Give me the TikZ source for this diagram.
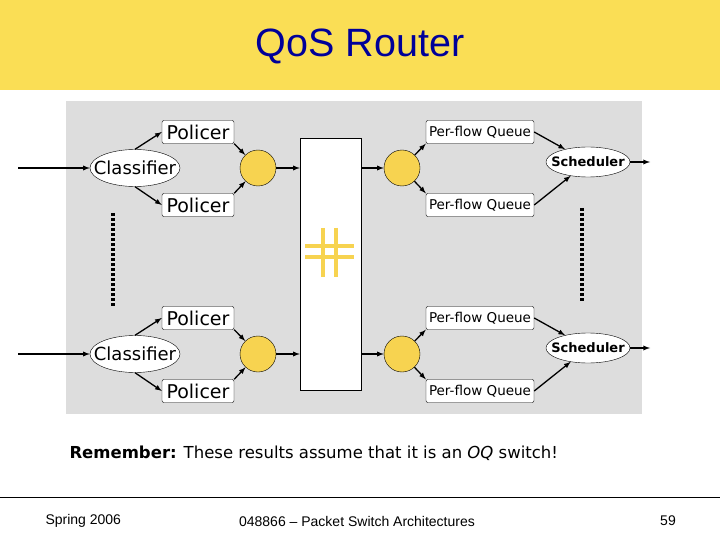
\documentclass[tikz,border=0pt]{standalone}
\usepackage{fontspec}
\setmainfont{Liberation Sans}
\newfontfamily\comicfont{DejaVu Sans}
\usetikzlibrary{shapes.geometric}

\definecolor{headyellow}{RGB}{250,222,85}
\definecolor{hubyellow}{RGB}{247,211,80}
\definecolor{panelgray}{RGB}{221,221,221}
\definecolor{titleblue}{RGB}{0,0,153}

\tikzset{
  pol/.style={draw, fill=white, rounded corners=2pt, minimum width=72pt, minimum height=23pt, inner sep=1pt, font=\comicfont\fontsize{19}{19}\selectfont},
  que/.style={draw, fill=white, rounded corners=2pt, minimum width=108pt, minimum height=23pt, inner sep=1pt, font=\comicfont\fontsize{13.5}{13.5}\selectfont},
  oval/.style={ellipse, draw, fill=white, inner sep=0pt},
  hub/.style={circle, draw, fill=hubyellow, minimum size=36pt, inner sep=0pt},
  conn/.style={line width=1.3pt, -latex},
  foot/.style={font=\fontsize{14}{14}\selectfont}
}

\begin{document}
\begin{tikzpicture}[x=1pt,y=-1pt]
    \useasboundingbox (0,0) rectangle (720,540);
    % header
    \fill[headyellow] (0,0) rectangle (720,90);
    \node[text=titleblue, font=\fontsize{39.5}{39.5}\selectfont] (title) at (360,46) {QoS Router};
    % diagram panel
    \fill[panelgray] (66,101) rectangle (642,414);
    \node[draw, fill=white, minimum width=61pt, minimum height=252pt, inner sep=0pt] (sw) at (330.5,264) {};
    \draw[hubyellow, line width=3.5pt] (323,228) -- (323,277) (336,228) -- (336,277)
        (305,246) -- (354,246) (305,257) -- (354,257);
    \foreach \g/\y in {1/168,2/354}
    {
        \coordinate (in\g) at (18,\y);
        \node[oval, minimum width=90pt, minimum height=37pt] (cls\g) at (135,\y)
            {\makebox[0pt]{\comicfont\fontsize{18}{18}\selectfont Classifier}};
        \node[pol] (pol\g a) at (198,\y-36) {Policer};
        \node[pol] (pol\g b) at (198,\y+37) {Policer};
        \node[hub] (mux\g) at (258,\y) {};
        \node[hub] (dmx\g) at (402,\y) {};
        \node[que] (que\g a) at (480,\y-36) {Per-flow Queue};
        \node[que] (que\g b) at (480,\y+37) {Per-flow Queue};
        \node[oval, minimum width=84pt, minimum height=30pt] (sch\g) at (588,\y-6)
            {\makebox[0pt]{\comicfont\bfseries\fontsize{13}{13}\selectfont Scheduler}};
        \coordinate (out\g) at (650,\y-6);
        \draw[conn] (in\g) -- (cls\g);
        \draw[conn] (cls\g.north) -- (pol\g a.west);
        \draw[conn] (cls\g.south) -- (pol\g b.west);
        \draw[conn] (pol\g a.south east) -- (mux\g);
        \draw[conn] (pol\g b.north east) -- (mux\g);
        \draw[conn] (mux\g) -- (mux\g -| sw.west);
        \draw[conn] (sw.east |- dmx\g) -- (dmx\g);
        \draw[conn] (dmx\g) -- (que\g a.south west);
        \draw[conn] (dmx\g) -- (que\g b.north west);
        \draw[conn] (que\g a.east) -- (sch\g);
        \draw[conn] (que\g b.east) -- (sch\g);
        \draw[conn] (sch\g) -- (out\g);
    }
    % dots between the two groups
    \draw[line width=4pt, dash pattern=on 3pt off 2pt] (113,213) -- (113,306);
    \draw[line width=4pt, dash pattern=on 3pt off 2pt] (582,208) -- (582,302);
    % note and footer
    \node[anchor=west, font=\comicfont\fontsize{16.5}{16.5}\selectfont] (note) at (66,453)
        {\textbf{Remember:} These results assume that it is an \textit{OQ} switch!};
    \draw[line width=1pt] (0,497) -- (720,497);
    \node[foot, anchor=west] (date) at (42,521) {Spring 2006};
    \node[foot] (course) at (357,521) {048866 -- Packet Switch Architectures};
    \node[foot] (page) at (668,521) {59};
\end{tikzpicture}
\end{document}
